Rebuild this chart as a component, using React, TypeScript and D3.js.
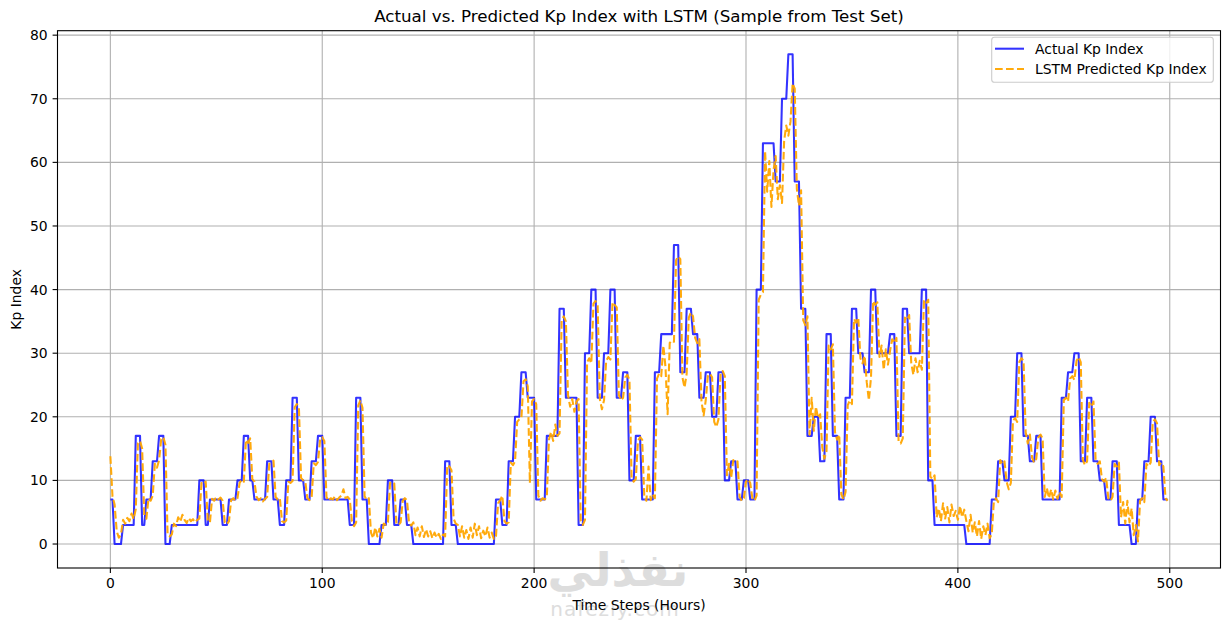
import React from 'react';
import * as d3 from 'd3';

const xTicks = [0, 100, 200, 300, 400, 500];
const yTicks = [0, 10, 20, 30, 40, 50, 60, 70, 80];

const actualKp = [
  7, 7, 0, 0, 0, 0, 3, 3, 3, 3,
  3, 3, 17, 17, 17, 3, 3, 7, 7, 7,
  13, 13, 13, 17, 17, 17, 0, 0, 0, 3,
  3, 3, 3, 3, 3, 3, 3, 3, 3, 3,
  3, 3, 10, 10, 10, 3, 3, 7, 7, 7,
  7, 7, 7, 3, 3, 3, 7, 7, 7, 7,
  10, 10, 10, 17, 17, 17, 10, 10, 7, 7,
  7, 7, 7, 7, 13, 13, 13, 7, 7, 7,
  3, 3, 3, 10, 10, 10, 23, 23, 23, 10,
  10, 10, 7, 7, 7, 13, 13, 13, 17, 17,
  17, 7, 7, 7, 7, 7, 7, 7, 7, 7,
  7, 7, 7, 3, 3, 3, 23, 23, 23, 7,
  7, 7, 0, 0, 0, 0, 0, 0, 3, 3,
  3, 10, 10, 10, 3, 3, 3, 7, 7, 7,
  3, 3, 3, 0, 0, 0, 0, 0, 0, 0,
  0, 0, 0, 0, 0, 0, 0, 0, 13, 13,
  13, 3, 3, 3, 0, 0, 0, 0, 0, 0,
  0, 0, 0, 0, 0, 0, 0, 0, 0, 0,
  0, 0, 7, 7, 7, 3, 3, 3, 13, 13,
  13, 20, 20, 20, 27, 27, 27, 23, 23, 23,
  23, 7, 7, 7, 7, 7, 17, 17, 17, 17,
  17, 17, 37, 37, 37, 23, 23, 23, 23, 23,
  23, 3, 3, 3, 30, 30, 30, 40, 40, 40,
  23, 23, 23, 30, 30, 30, 40, 40, 40, 23,
  23, 23, 27, 27, 27, 10, 10, 10, 17, 17,
  17, 7, 7, 7, 7, 7, 7, 27, 27, 27,
  33, 33, 33, 33, 33, 33, 47, 47, 47, 27,
  27, 27, 37, 37, 37, 33, 33, 33, 23, 23,
  23, 27, 27, 27, 20, 20, 20, 27, 27, 27,
  10, 10, 10, 13, 13, 13, 7, 7, 7, 10,
  10, 10, 7, 7, 7, 40, 40, 40, 63, 63,
  63, 63, 63, 63, 57, 57, 57, 70, 70, 70,
  77, 77, 77, 57, 57, 57, 37, 37, 37, 17,
  17, 17, 20, 20, 20, 13, 13, 13, 33, 33,
  33, 17, 17, 17, 7, 7, 7, 23, 23, 23,
  37, 37, 37, 30, 30, 30, 27, 27, 27, 40,
  40, 40, 30, 30, 30, 30, 30, 30, 33, 33,
  33, 17, 17, 17, 37, 37, 37, 30, 30, 30,
  30, 30, 30, 40, 40, 40, 10, 10, 10, 3,
  3, 3, 3, 3, 3, 3, 3, 3, 3, 3,
  3, 3, 3, 3, 0, 0, 0, 0, 0, 0,
  0, 0, 0, 0, 0, 0, 7, 7, 7, 13,
  13, 13, 10, 10, 10, 20, 20, 20, 30, 30,
  30, 17, 17, 17, 13, 13, 13, 17, 17, 17,
  7, 7, 7, 7, 7, 7, 7, 7, 7, 23,
  23, 23, 27, 27, 27, 30, 30, 30, 13, 13,
  13, 23, 23, 23, 13, 13, 13, 10, 10, 10,
  7, 7, 7, 13, 13, 13, 3, 3, 3, 3,
  3, 3, 0, 0, 0, 7, 7, 7, 13, 13,
  13, 20, 20, 20, 13, 13, 13, 7, 7, 7,
];

const predictedKp = [
  13.8, 7.5, 6.2, 2.0, 1.0, 1.5, 3.8, 3.2, 4.1, 3.6,
  4.8, 3.9, 5.5, 15.8, 16.2, 15.0, 4.5, 4.0, 7.2, 6.8,
  7.6, 12.6, 12.0, 13.2, 16.5, 16.8, 15.6, 1.6, 1.2, 1.5,
  3.2, 2.8, 4.2, 3.5, 4.6, 3.8, 3.3, 4.1, 3.6, 3.9,
  3.4, 3.8, 4.0, 9.6, 9.4, 9.8, 3.6, 3.4, 7.1, 6.8,
  7.4, 7.0, 7.3, 6.8, 3.4, 3.1, 3.6, 6.9, 7.2, 6.8,
  7.2, 9.6, 10.1, 9.8, 16.4, 15.9, 16.6, 10.2, 9.8, 7.4,
  6.9, 7.2, 6.7, 7.1, 7.4, 12.6, 12.9, 13.1, 7.4, 7.0,
  7.2, 3.6, 3.4, 3.7, 9.8, 9.6, 9.9, 21.5, 22.0, 21.4,
  10.4, 10.0, 9.8, 7.2, 6.9, 7.3, 12.7, 12.4, 12.9, 16.4,
  16.8, 16.2, 7.4, 6.8, 7.2, 7.0, 7.5, 6.9, 7.3, 7.6,
  8.6, 7.2, 7.4, 7.0, 3.6, 2.8, 3.4, 21.8, 22.6, 21.4,
  7.5, 6.9, 7.2, 1.8, 0.9, 2.6, 1.2, 2.4, 1.0, 3.2,
  3.0, 3.4, 9.6, 9.8, 9.5, 3.3, 3.0, 3.4, 6.8, 7.2,
  6.9, 3.2, 2.9, 3.4, 1.4, 2.6, 1.2, 2.8, 1.1, 2.3,
  1.2, 2.0, 0.9, 1.8, 1.0, 1.6, 0.8, 1.5, 1.2, 12.4,
  12.2, 11.6, 4.0, 3.2, 3.0, 1.2, 2.8, 1.0, 2.2, 0.8,
  2.6, 1.0, 3.2, 1.4, 2.8, 0.9, 2.1, 1.2, 2.6, 1.0,
  1.8, 0.8, 1.2, 6.4, 6.9, 7.6, 3.6, 3.2, 3.4, 12.8,
  12.4, 13.0, 19.2, 19.6, 19.8, 25.6, 25.9, 24.8, 9.6, 22.4,
  22.8, 22.0, 7.6, 6.8, 7.2, 7.0, 7.4, 16.4, 17.6, 16.2,
  18.8, 17.0, 17.4, 35.2, 35.8, 35.0, 23.4, 21.6, 22.8, 20.8,
  22.4, 22.8, 3.6, 3.0, 3.8, 28.6, 29.2, 28.4, 37.8, 38.2,
  37.4, 22.8, 21.2, 22.6, 28.8, 29.4, 29.0, 38.0, 37.6, 37.2,
  23.4, 22.6, 23.0, 26.2, 26.6, 25.8, 10.4, 9.8, 10.2, 16.2,
  16.8, 16.4, 7.4, 6.8, 12.2, 6.9, 7.8, 7.2, 26.0, 26.8,
  26.4, 31.2, 27.8, 20.4, 31.6, 32.0, 31.8, 44.6, 45.2, 44.8,
  26.2, 24.6, 26.8, 35.6, 36.4, 35.8, 32.4, 31.6, 32.2, 22.4,
  20.2, 22.6, 26.4, 26.8, 26.2, 19.2, 18.4, 19.6, 26.8, 27.2,
  26.4, 10.8, 12.6, 10.4, 13.2, 12.8, 13.0, 7.4, 6.8, 7.2,
  9.8, 10.2, 9.6, 7.2, 6.8, 7.6, 38.4, 39.2, 39.6, 61.8,
  55.4, 60.2, 53.0, 58.8, 61.0, 54.2, 56.4, 53.6, 63.4, 65.8,
  64.2, 66.4, 72.4, 71.6, 55.8, 53.2, 55.6, 35.2, 34.4, 35.8,
  17.2, 23.0, 17.8, 21.6, 19.8, 20.4, 15.2, 13.4, 14.6, 31.2,
  30.6, 31.4, 17.6, 16.4, 17.2, 7.8, 7.0, 8.2, 21.8, 22.6,
  22.0, 35.4, 34.8, 35.6, 29.2, 28.4, 29.6, 25.4, 22.6, 26.2,
  38.2, 37.6, 38.0, 29.4, 31.2, 27.4, 30.6, 28.2, 30.4, 32.2,
  31.6, 32.4, 16.2, 15.8, 16.6, 35.6, 35.2, 36.0, 28.4, 26.6,
  29.2, 27.0, 28.8, 27.4, 38.2, 37.8, 38.4, 10.6, 10.2, 10.8,
  4.2, 5.6, 3.6, 6.4, 4.0, 5.8, 3.4, 6.2, 4.4, 5.2,
  3.8, 6.0, 4.2, 5.4, 3.6, 2.0, 4.6, 1.8, 3.4, 1.2,
  3.6, 0.8, 2.8, 1.4, 3.2, 0.9, 1.6, 6.8, 7.2, 6.6,
  13.2, 12.6, 13.0, 9.8, 8.6, 9.6, 19.4, 19.8, 19.2, 28.6,
  29.2, 28.8, 17.6, 15.8, 17.2, 13.6, 12.8, 13.4, 16.8, 17.2,
  16.6, 7.4, 8.8, 7.2, 8.6, 7.0, 8.4, 7.1, 8.2, 7.4,
  22.6, 23.0, 22.4, 26.0, 26.4, 25.8, 28.8, 29.4, 28.6, 13.2,
  12.4, 13.0, 22.2, 21.6, 22.4, 13.2, 12.6, 13.0, 10.2, 9.8,
  10.4, 7.2, 6.8, 7.4, 12.6, 12.2, 12.8, 4.2, 6.6, 3.2,
  6.8, 3.4, 5.6, 1.4, 3.0, 0.4, 6.8, 7.2, 6.6, 12.6,
  12.2, 12.8, 19.2, 19.6, 19.0, 12.4, 12.8, 12.2, 7.2, 6.8,
];

const seriesLabels = ['Actual Kp Index', 'LSTM Predicted Kp Index'];

export default function App() {
  const W = 1229;
  const H = 622;
  const left = 57.5;
  const right = 1220.5;
  const top = 30.7;
  const bottom = 568;
  const font = "'DejaVu Sans', sans-serif";
  const fs = 13.9;
  const lw = 2.08;
  const tick = 4.9;

  const x = d3.scaleLinear().domain([-24.95, 523.95]).range([left, right]);
  const y = d3.scaleLinear().domain([-3.77, 80.7]).range([bottom, top]);

  const line = d3
    .line<number>()
    .x((_, i) => x(i))
    .y((d) => y(d));

  const cx = (left + right) / 2;
  const cy = (top + bottom) / 2;

  const legX = 991.7;
  const legY = 37.3;

  return (
    <div style={{ position: 'absolute', left: 0, top: 0, width: W, height: H }}>
      <svg width={W} height={H} viewBox={`0 0 ${W} ${H}`} style={{ display: 'block', background: '#fff' }}>
        <defs>
          <clipPath id="plotClip">
            <rect x={left} y={top} width={right - left} height={bottom - top} />
          </clipPath>
        </defs>
        <rect x={0} y={0} width={W} height={H} fill="#fff" />

        {/* grid */}
        <g stroke="#b0b0b0" strokeWidth={1.1}>
          {xTicks.map((t) => (
            <line key={`gx${t}`} x1={x(t)} x2={x(t)} y1={top} y2={bottom} />
          ))}
          {yTicks.map((t) => (
            <line key={`gy${t}`} x1={left} x2={right} y1={y(t)} y2={y(t)} />
          ))}
        </g>

        {/* watermark */}
        <g fill="#d2d2d2" opacity={0.75} fontFamily={font} textAnchor="middle">
          <text x={618} y={586} fontSize={46} fontWeight="bold">نفذلي</text>
          <text x={615} y={616} fontSize={20} letterSpacing={1}>nafezly.com</text>
        </g>

        {/* series */}
        <g clipPath="url(#plotClip)" fill="none">
          <path d={line(actualKp) || ''} stroke="#0000ff" strokeOpacity={0.8} strokeWidth={lw} strokeLinejoin="round" strokeLinecap="butt" />
          <path d={line(predictedKp) || ''} stroke="#ffa500" strokeOpacity={0.95} strokeWidth={lw} strokeDasharray="7.7 3.3" strokeLinejoin="round" strokeLinecap="butt" />
        </g>

        {/* spines */}
        <rect x={left} y={top} width={right - left} height={bottom - top} fill="none" stroke="#000" strokeWidth={1.1} />

        {/* ticks */}
        <g fontFamily={font} fontSize={fs} fill="#000">
          {xTicks.map((t) => (
            <g key={`xt${t}`}>
              <line x1={x(t)} x2={x(t)} y1={bottom} y2={bottom + tick} stroke="#000" strokeWidth={1.1} />
              <text x={x(t)} y={bottom + 2 * tick} dy="0.76em" textAnchor="middle">{t}</text>
            </g>
          ))}
          {yTicks.map((t) => (
            <g key={`yt${t}`}>
              <line x1={left - tick} x2={left} y1={y(t)} y2={y(t)} stroke="#000" strokeWidth={1.1} />
              <text x={left - 2 * tick} y={y(t)} dy="0.36em" textAnchor="end">{t}</text>
            </g>
          ))}
        </g>

        {/* labels */}
        <text x={cx} y={609.5} fontFamily={font} fontSize={fs} textAnchor="middle" fill="#000">Time Steps (Hours)</text>
        <text
          x={0}
          y={0}
          transform={`translate(20.5, ${cy}) rotate(-90)`}
          fontFamily={font}
          fontSize={fs}
          textAnchor="middle"
          fill="#000"
        >
          Kp Index
        </text>
        <text x={cx} y={21.8} fontFamily={font} fontSize={16.7} textAnchor="middle" fill="#000">
          Actual vs. Predicted Kp Index with LSTM (Sample from Test Set)
        </text>

        {/* legend */}
        <g>
          <rect x={legX} y={legY} width={221.6} height={45} rx={2.8} fill="#fff" fillOpacity={0.8} stroke="#cccccc" strokeWidth={1.1} />
          <line x1={995} x2={1024} y1={48.7} y2={48.7} stroke="#0000ff" strokeOpacity={0.8} strokeWidth={lw} />
          <line x1={995} x2={1024} y1={69} y2={69} stroke="#ffa500" strokeOpacity={0.95} strokeWidth={lw} strokeDasharray="7.7 3.3" />
          <text x={1035} y={48.7} dy="0.36em" fontFamily={font} fontSize={fs} fill="#000">{seriesLabels[0]}</text>
          <text x={1035} y={69} dy="0.36em" fontFamily={font} fontSize={fs} fill="#000">{seriesLabels[1]}</text>
        </g>
      </svg>
    </div>
  );
}
